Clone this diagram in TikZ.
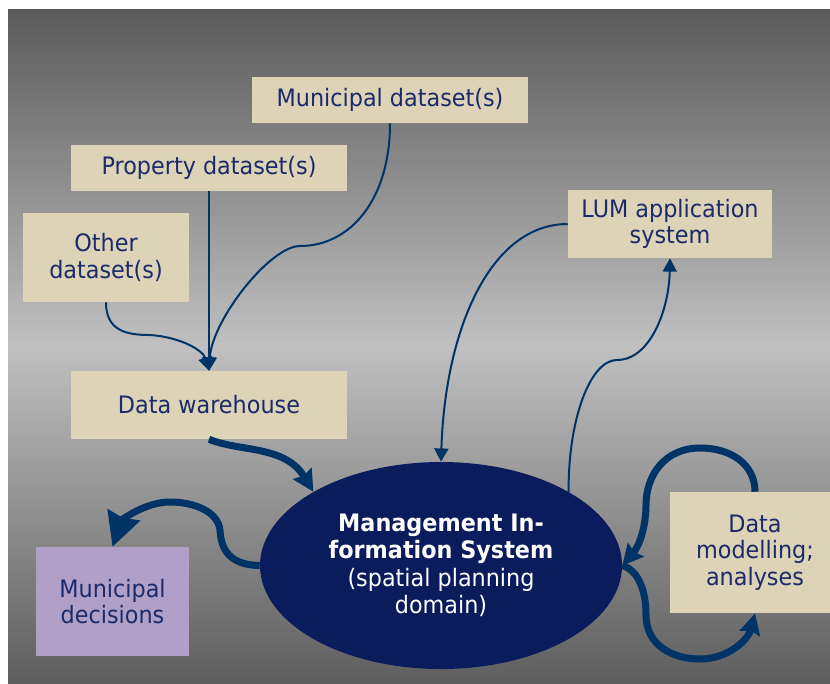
\documentclass[tikz,border=0pt]{standalone}
\usepackage{fontspec}
\setmainfont[FakeStretch=0.93]{DejaVu Sans}
\usetikzlibrary{arrows.meta,shapes.geometric}

\definecolor{bgdark}{HTML}{5A5A5A}
\definecolor{bglight}{HTML}{C0C0C0}
\definecolor{bgbottom}{HTML}{5E5E5E}
\definecolor{sand}{HTML}{DDD3B6}
\definecolor{lilac}{HTML}{B0A0C8}
\definecolor{navy}{HTML}{0B1C5C}
\definecolor{inkblue}{HTML}{1A2A6A}
\definecolor{flow}{HTML}{003366}

\begin{document}
\begin{tikzpicture}[x=0.75pt,y=-0.75pt,
  every node/.style={font=\fontsize{18}{20}\selectfont, align=center,
    inner sep=0pt, text=inkblue},
  box/.style={fill=sand, rectangle},
  thinflow/.style={draw=flow, line width=1.5pt,
    -{Triangle[length=10pt,width=10.5pt]}},
  thickflow/.style={draw=flow, line width=5.25pt,
    -{Stealth[length=#1,width=#1,inset=2pt]}},
  thickflow/.default=16pt,
]
% page and backdrop
\fill[white] (0,0) rectangle (830,683);
\clip (0,0) rectangle (830,683);
\shade[top color=bgdark, bottom color=bgbottom, middle color=bglight]
  (8,9) rectangle (830,683);

% data sources and stores
\node[box, minimum width=207pt, minimum height=34.5pt] (muni) at (390,100) {Municipal dataset(s)};
\node[box, minimum width=207pt, minimum height=34.5pt] (prop) at (209,168) {Property dataset(s)};
\node[box, minimum width=124.5pt, minimum height=66.75pt] (other) at (106,257.5) {Other\\dataset(s)};
\node[box, minimum width=207pt, minimum height=51pt] (dw) at (209,405) {Data warehouse};
\node[box, minimum width=153pt, minimum height=51pt] (lum) at (670,224) {LUM application\\system};
\node[box, minimum width=127.5pt, minimum height=90.75pt] (dm) at (755,552.5) {Data\\modelling;\\analyses};
\node[fill=lilac, minimum width=114.75pt, minimum height=81.75pt] (dec) at (112.5,601.5) {Municipal\\decisions};

% central system
\node[ellipse, fill=navy, text=white, minimum width=271.5pt, minimum height=155.25pt,
  font=\fontsize{18}{20.6}\selectfont]
  (ell) at (441,565.5)
  {\textbf{Management In-}\\\textbf{formation System}\\(spatial planning\\domain)};

% thin feeds
\draw[thinflow] (prop.south) -- (dw.north);
\draw[thinflow] (muni.south) .. controls (390,200) and (350,246) .. (300,246)
  .. controls (270,246) and (212,320) .. (dw.north);
\draw[thinflow] (other.south) .. controls (106,330) and (125,335) .. (150,335)
  .. controls (180,337) and (203,350) .. (dw.north);
\draw[thinflow] (lum.west) .. controls (490,224) and (445,330) .. (ell.north);
\draw[thinflow] (ell.30) .. controls (568,420) and (590,360) .. (617,360)
  .. controls (650,360) and (669,310) .. (lum.south);

% thick flows
\draw[thickflow] (dw.south) .. controls (240,452) and (285,445) .. (ell.150);
\draw[thickflow=25pt] (ell.west) .. controls (230,565) and (221,550) .. (220,530)
  .. controls (218,512) and (195,502) .. (170,502)
  .. controls (145,502) and (122,520) .. (dec.north);
\draw[thickflow=15.5pt] (dm.north) .. controls (755,465) and (732,448) .. (700,448)
  .. controls (665,448) and (646,475) .. (646,505)
  .. controls (646,525) and (640,545) .. (ell.east);
\draw[thickflow=15.5pt] (ell.east) .. controls (638,570) and (646,590) .. (646,615)
  .. controls (646,645) and (672,659) .. (700,659)
  .. controls (728,659) and (748,640) .. (dm.south);
\end{tikzpicture}
\end{document}
